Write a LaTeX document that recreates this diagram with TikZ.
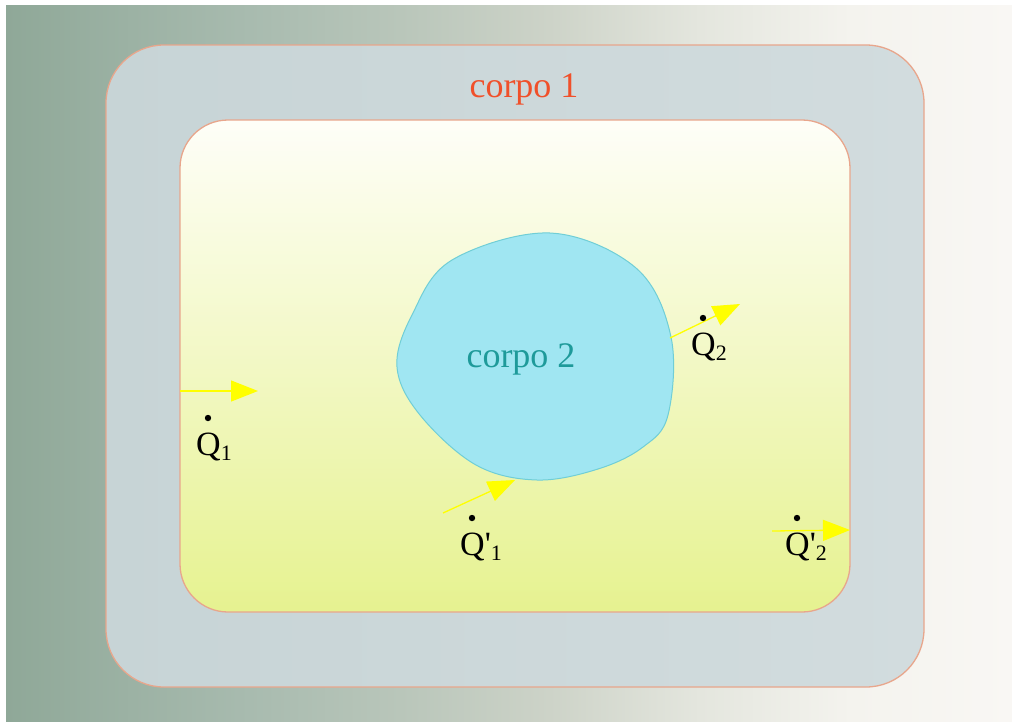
\documentclass[tikz,border=0pt]{standalone}
\usepackage{fontspec}
\setmainfont{Liberation Serif}
\usetikzlibrary{arrows.meta}
\definecolor{bg0}{RGB}{143,168,152}
\definecolor{bg1}{RGB}{168,187,175}
\definecolor{bg2}{RGB}{185,198,186}
\definecolor{bg3}{RGB}{205,211,200}
\definecolor{bg4}{RGB}{228,230,222}
\definecolor{bg5}{RGB}{244,243,238}
\definecolor{bg6}{RGB}{249,247,244}
\definecolor{outerL}{RGB}{199,212,214}
\definecolor{outerR}{RGB}{210,220,222}
\definecolor{innerT}{RGB}{254,254,248}
\definecolor{innerB}{RGB}{230,242,144}
\definecolor{rim}{RGB}{232,166,140}
\definecolor{blobfill}{RGB}{160,230,242}
\definecolor{blobline}{RGB}{112,206,214}
\definecolor{redtext}{RGB}{240,80,42}
\definecolor{tealtext}{RGB}{30,154,154}
\definecolor{flowcol}{RGB}{255,255,0}
\pgfdeclarehorizontalshading{bgshade}{100bp}{color(0bp)=(bg0); color(25bp)=(bg0); color(37.1bp)=(bg1); color(44.6bp)=(bg2); color(52bp)=(bg3); color(59.5bp)=(bg4); color(67bp)=(bg5); color(75bp)=(bg6); color(100bp)=(bg6)}
\newcommand\qsub[1]{\raisebox{-5pt}{\fontsize{22}{22}\selectfont #1}}
\begin{document}
\begin{tikzpicture}[x=1pt,y=-1pt,
  bodyline/.style={draw=rim, line width=1.3pt},
  blob/.style={draw=blobline, line width=1pt, fill=blobfill},
  flow/.style={draw=flowcol, line width=1.3pt, -{Triangle[length=27pt,width=21pt]}},
  qlab/.style={inner sep=0pt, anchor=base west, font=\fontsize{34}{34}\selectfont},
  corpolab/.style={inner sep=0pt, anchor=base, font=\fontsize{36}{36}\selectfont}]
\useasboundingbox (0,0) rectangle (1012,721);
\shade[shading=bgshade] (6,5) rectangle (1012,721);
\draw[bodyline, left color=outerL, right color=outerR, rounded corners=58pt] (106,45) rectangle (924,687);
\draw[bodyline, top color=innerT, bottom color=innerB, rounded corners=48pt] (180,120) rectangle (850,612);
\draw[blob] plot[smooth cycle, tension=0.6] coordinates {
  (397,367) (412,315) (452,260) (550,233) (636,268) (671,337)
  (668,415) (643,447) (598,469) (537,480) (476,465) (420,415)};
\node[corpolab, text=redtext] (c1) at (524,97) {corpo 1};
\node[corpolab, text=tealtext] (c2) at (521,367) {corpo 2};
\coordinate (a1s) at (180,391); \coordinate (a1e) at (258,391);
\coordinate (a2s) at (443,513); \coordinate (a2e) at (515,480);
\coordinate (a3s) at (670,338); \coordinate (a3e) at (740,304);
\coordinate (a4s) at (772,531); \coordinate (a4e) at (850,530);
\draw[flow] (a1s) -- (a1e);
\draw[flow] (a2s) -- (a2e);
\draw[flow] (a3s) -- (a3e);
\draw[flow] (a4s) -- (a4e);
\node[qlab] (q1) at (196,455) {Q\qsub{1}};
\node[qlab] (q1p) at (460,555) {Q\textquotesingle\qsub{1}};
\node[qlab] (q2) at (691,355) {Q\qsub{2}};
\node[qlab] (q2p) at (785,555) {Q\textquotesingle\qsub{2}};
\foreach \n in {q1,q1p,q2,q2p}{\fill (\n.base west) ++(12,-37) circle (3.2pt);}
\end{tikzpicture}
\end{document}
